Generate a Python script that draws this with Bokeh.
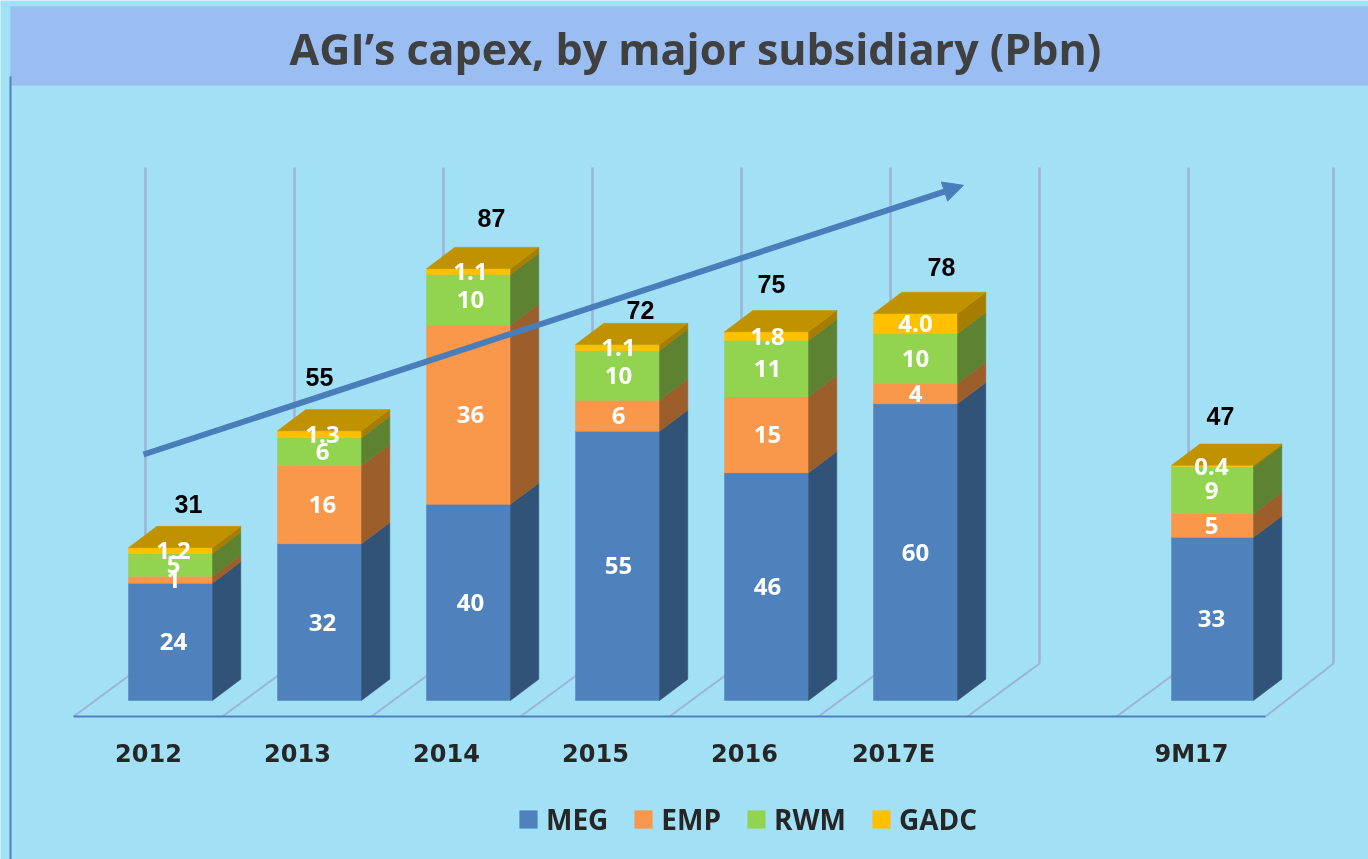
from bokeh.embed import file_html
from bokeh.resources import INLINE
from bokeh.plotting import figure
from bokeh.core.properties import value
from bokeh.models import (ColumnDataSource, Range1d, LinearAxis, FixedTicker, Legend, LegendItem,
                          Label, BoxAnnotation, Arrow, NormalHead)

# ---- data ----
categories = ["2012", "2013", "2014", "2015", "2016", "2017E", "9M17"]
slots = [0, 1, 2, 3, 4, 5, 7]
series_names = ["MEG", "EMP", "RWM", "GADC"]
meg = [23.8, 31.8, 39.8, 54.6, 46.2, 60.2, 33.1]
emp = [1.4, 15.8, 36.3, 6.3, 15.4, 4.1, 4.8]
rwm = [4.6, 5.7, 10.3, 10.1, 11.4, 10.1, 9.5]
gadc = [1.2, 1.4, 1.2, 1.2, 1.8, 4.1, 0.3]
meg_labels = ["24", "32", "40", "55", "46", "60", "33"]
emp_labels = ["1", "16", "36", "6", "15", "4", "5"]
rwm_labels = ["5", "6", "10", "10", "11", "10", "9"]
gadc_labels = ["1.2", "1.3", "1.1", "1.1", "1.8", "4.0", "0.4"]
total_labels = ["31", "55", "87", "72", "75", "78", "47"]

# ---- layout and style ----
W, H = 1368, 859
BG = "#a2e0f6"
front = ["#4f81bd", "#f9974a", "#92d34f", "#ffc000"]
side = ["#325378", "#9c5e2b", "#5d8232", "#a67d00"]
TOP_FACE = "#c09200"
WALL = "#9db3d8"
PX_X = 149.0
PX_Y = 4.93
bar_shift = [0, 0, 0, 0, 0, 0, -1 / PX_X]
bar_w = [84 / PX_X] * 6 + [82 / PX_X]
bar_x = [s + d for s, d in zip(slots, bar_shift)]
DX, DY = 28.3 / PX_X, 4.32
label_nudge_x = [3, 3, 2, 1, 1, 0, -1]             # px from the bar centre
total_nudge_x = [18, 0, 23, 23, 5, 26, 8]          # px from the bar centre
total_nudge_y = [44, 54, 51, 35, 48, 46, 49]       # px above the front top
x_start = -170 / PX_X
y_start = -(H - 700) / PX_Y

p = figure(width=W, height=H, output_backend="svg", toolbar_location=None,
           x_range=Range1d(x_start, x_start + W / PX_X),
           y_range=Range1d(y_start, y_start + H / PX_Y),
           min_border=0, min_border_left=0, min_border_right=0, min_border_top=0, min_border_bottom=0,
           x_axis_location=None, y_axis_location=None,
           background_fill_color=BG, border_fill_color=BG, outline_line_color=None,
           styles={"position": "fixed", "left": "0px", "top": "0px"})
p.xgrid.visible = False
p.ygrid.visible = False
p.extra_x_ranges["floor"] = Range1d(-148 / PX_X, (W - 148) / PX_X)

# back wall and floor
FLOOR_Y, WALL_BOTTOM, WALL_TOP = -3.25, 7.5, 108.1
wall_x = [i - 25 / PX_X for i in range(8)] + [(1333 - 170) / PX_X]
floor_dx = [-72 / PX_X] * 8 + [-68 / PX_X]
p.segment(wall_x, [WALL_BOTTOM] * 9, wall_x, [WALL_TOP] * 9, line_color=WALL, line_width=2.5)
p.segment(wall_x, [WALL_BOTTOM] * 9, [a + b for a, b in zip(wall_x, floor_dx)], [FLOOR_Y] * 9,
          line_color=WALL, line_width=2)

# stacked boxes
cols = [meg, emp, rwm, gadc]
labels = [meg_labels, emp_labels, rwm_labels, gadc_labels]
base = [0.0] * len(slots)
legend_items = []
for k, vals in enumerate(cols):
    top = [b + v for b, v in zip(base, vals)]
    r = p.vbar(x=bar_x, bottom=base, top=top, width=bar_w, fill_color=front[k], line_color=front[k], line_width=0.5)
    xs, ys = [], []
    for s, w, b, t in zip(bar_x, bar_w, base, top):
        xr = s + w / 2
        xs.append([xr, xr + DX, xr + DX, xr])
        ys.append([b, b + DY, t + DY, t])
    p.patches(xs, ys, fill_color=side[k], line_color=side[k], line_width=0.5)
    legend_items.append(LegendItem(label=series_names[k], renderers=[r]))
    base = top
xs, ys = [], []
for s, w, t in zip(bar_x, bar_w, base):
    xl, xr = s - w / 2, s + w / 2
    xs.append([xl, xr, xr + DX, xl + DX])
    ys.append([t, t, t + DY, t + DY])
p.patches(xs, ys, fill_color=TOP_FACE, line_color=TOP_FACE, line_width=0.5)

# floor axis with the category labels
axis = LinearAxis(x_range_name="floor", fixed_location=FLOOR_Y,
                  ticker=FixedTicker(ticks=slots),
                  major_label_overrides={s: c for s, c in zip(slots, categories)},
                  bounds=((73 - 148) / PX_X, (1265 - 148) / PX_X),
                  axis_line_color="#4f81bd", axis_line_width=2,
                  major_tick_line_color=None, minor_tick_line_color=None,
                  major_label_standoff=17,
                  major_label_text_font="DejaVu Sans", major_label_text_font_style="bold",
                  major_label_text_font_size="24px", major_label_text_color="#262626")
p.add_layout(axis, "below")

# growth arrow
p.add_layout(Arrow(end=NormalHead(size=20, fill_color="#4a7ebb", fill_alpha=1, line_color="#4a7ebb", line_width=1),
                   x_start=-27 / PX_X, y_start=49.9, x_end=793 / PX_X, y_end=104.5,
                   line_color="#4a7ebb", line_width=6))

# value labels
base = [0.0] * len(slots)
for vals, labs in zip(cols, labels):
    mid = [b + v / 2 for b, v in zip(base, vals)]
    src = ColumnDataSource(dict(x=bar_x, y=mid, t=labs, dx=label_nudge_x))
    p.text("x", "y", text="t", source=src, x_offset="dx", text_color="white", text_align="center",
           text_baseline="middle", text_font=value("Open Sans"), text_font_style="bold", text_font_size="24px")
    base = [b + v for b, v in zip(base, vals)]
src = ColumnDataSource(dict(x=bar_x, y=base, t=total_labels, dx=total_nudge_x, dy=[-v for v in total_nudge_y]))
p.text("x", "y", text="t", source=src, x_offset="dx", y_offset="dy", text_color="black",
       text_align="center", text_baseline="middle", text_font=value("Liberation Sans"),
       text_font_style="bold", text_font_size="25px")

# title band, left rule, title
p.add_layout(BoxAnnotation(left=10, right=W, top=H - 6, bottom=H - 85, left_units="screen", right_units="screen",
                           top_units="screen", bottom_units="screen", fill_color="#9abef2", fill_alpha=1,
                           line_color="#93c4f0", line_width=1, level="underlay"))
p.add_layout(BoxAnnotation(left=9, right=11, top=H - 76, bottom=0, left_units="screen", right_units="screen",
                           top_units="screen", bottom_units="screen", fill_color="#4f81bd", fill_alpha=1,
                           line_color=None, level="underlay"))
p.add_layout(Label(x=695, y=H - 48, x_units="screen", y_units="screen",
                   text="AGI\u2019s capex, by major subsidiary (Pbn)", text_align="center", text_baseline="middle",
                   text_font="Open Sans", text_font_style="bold", text_font_size="43px", text_color="#404040"))

# legend
legend = Legend(items=legend_items, orientation="horizontal", location=(517, H - 838),
                background_fill_alpha=0, border_line_color=None, padding=0, margin=0,
                glyph_width=22, glyph_height=22, label_standoff=7, spacing=24,
                label_text_font="Open Sans", label_text_font_style="bold", label_text_font_size="28px",
                label_text_color="#262626")
p.add_layout(legend, "center")

open("out.html", "w").write(file_html(p, INLINE))
